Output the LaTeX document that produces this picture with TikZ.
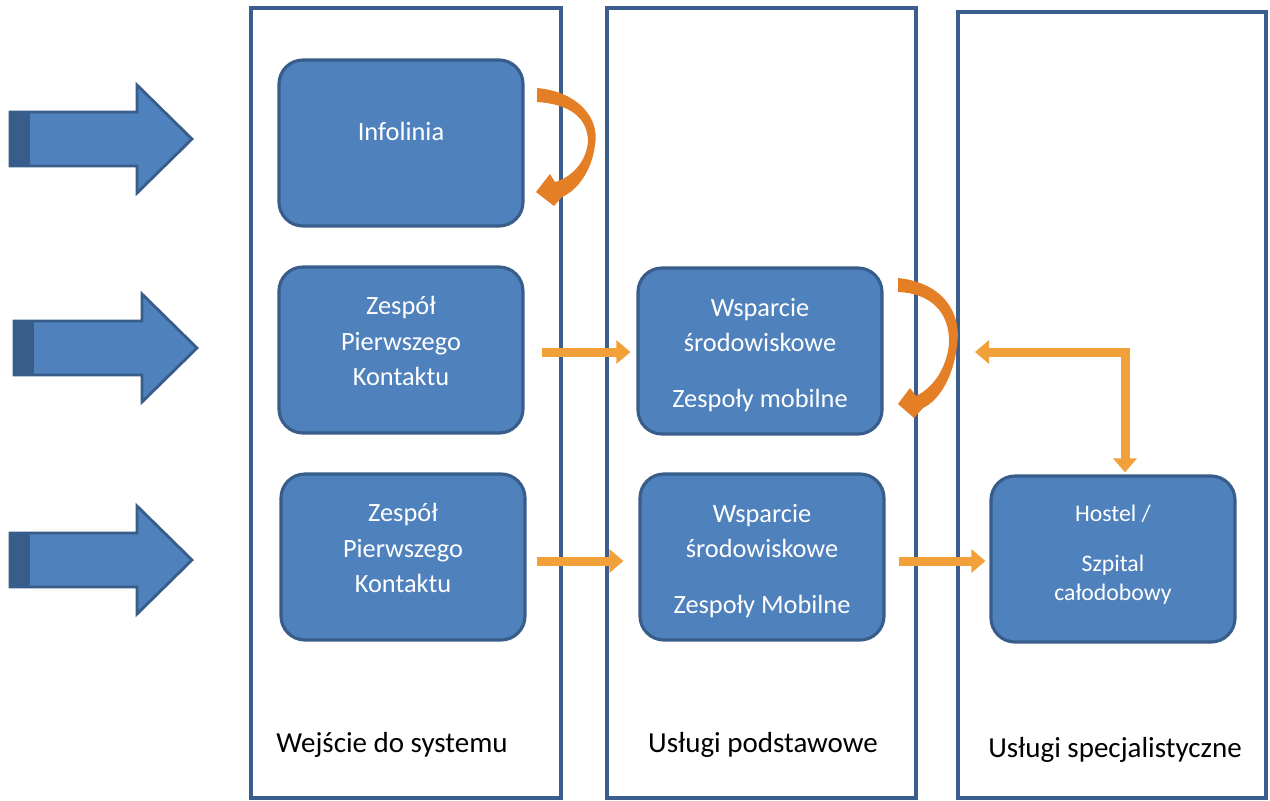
\documentclass[tikz,border=0pt]{standalone}
\usepackage{fontspec}
\setmainfont{Carlito}
\usetikzlibrary{arrows.meta}
\definecolor{boxblue}{HTML}{4F81BD}
\definecolor{boxline}{HTML}{385D8A}
\definecolor{colline}{HTML}{3B5E8C}
\definecolor{flowor}{HTML}{F2A03A}
\definecolor{curveor}{HTML}{E47F25}

\begin{document}
\begin{tikzpicture}[x=0.2mm, y=-0.2mm,
    column/.style={draw=colline, line width=2.2pt},
    unit/.style={draw=boxline, line width=1.8pt, fill=boxblue, rounded corners=0.48cm,
        minimum width=4.88cm, minimum height=3.32cm},
    inside/.style={text=white, align=center, font=\fontsize{15}{20}\selectfont},
    tag/.style={font=\fontsize{16.5}{20}\selectfont},
    bigarrow/.style={draw=boxline, line width=1.6pt, fill=boxblue},
    flow/.style={draw=flowor, line width=1.8mm, -{Triangle[width=4.6mm,length=2.8mm]}},
    turn/.style={fill=curveor}]
    \useasboundingbox (0,0) rectangle (1270,800);

    % columns
    \draw[column] (251,8) rectangle (561,798);
    \draw[column] (607,8) rectangle (916,798);
    \draw[column] (958,12) rectangle (1266,798);
    \node[tag] (entry) at (392,745) {Wejście do systemu};
    \node[tag] (basic) at (763,745) {Usługi podstawowe};
    \node[tag] (special) at (1115,750) {Usługi specjalistyczne};

    % incoming arrows
    \draw[bigarrow] (10,112) -- (137,112) -- (137,85) -- (192,139) -- (137,193) -- (137,166) -- (10,166) -- cycle;
    \fill[boxline] (10,112) rectangle (30,166);
    \draw[bigarrow] (14,321) -- (142,321) -- (142,294) -- (197,348) -- (142,402) -- (142,375) -- (14,375) -- cycle;
    \fill[boxline] (14,321) rectangle (34,375);
    \draw[bigarrow] (10,533) -- (137,533) -- (137,506) -- (192,560) -- (137,614) -- (137,587) -- (10,587) -- cycle;
    \fill[boxline] (10,533) rectangle (30,587);

    % boxes
    \node[unit] (info) at (401,143) {};
    \node[unit] (zpk1) at (401,350) {};
    \node[unit] (zpk2) at (403,557) {};
    \node[unit] (ws1) at (760,351) {};
    \node[unit] (ws2) at (762,557) {};
    \node[unit] (hostel) at (1113,559) {};

    \node[inside] (info-t) at (401,131) {Infolinia};
    \node[inside] (zpk1-t) at (401,341) {Zespół\\Pierwszego\\Kontaktu};
    \node[inside] (zpk2-t) at (403,548) {Zespół\\Pierwszego\\Kontaktu};
    \node[inside] (ws1-t) at (760,355) {Wsparcie\\środowiskowe\\[12pt]Zespoły mobilne};
    \node[inside] (ws2-t) at (762,561) {Wsparcie\\środowiskowe\\[12pt]Zespoły Mobilne};
    \node[inside, font=\fontsize{13.5}{16.5}\selectfont] (hostel-t) at (1113,555) {Hostel /\\[12pt]Szpital\\całodobowy};

    % connectors
    \draw[flow, shorten <=3.4mm, shorten >=1.2mm] (zpk1.east |- 0,352) -- (ws1.west |- 0,352);
    \draw[flow, shorten <=2mm, shorten >=3mm] (zpk2.east |- 0,561) -- (ws2.west |- 0,561);
    \draw[flow, shorten <=2.6mm, shorten >=0.8mm] (ws2.east |- 0,561) -- (hostel.west |- 0,561);

    \coordinate (elbow) at (1125,352);
    \coordinate (back) at (975,352);
    \draw[flow, {Triangle[width=4.6mm,length=2.8mm]}-{Triangle[width=4.6mm,length=2.8mm]}, shorten >=0.4mm]
        (back) -- (elbow) -- (elbow |- hostel.north);

    % loops back
    \fill[turn] (537,88) .. controls (580,92) and (600,120) .. (595,145)
        .. controls (592,170) and (578,190) .. (562,197)
        -- (554,206) -- (536,192) -- (550,174) -- (555,182)
        .. controls (572,177) and (586,162) .. (588,142)
        .. controls (588,118) and (570,104) .. (537,102) -- cycle;
    \fill[turn] (898,278) .. controls (945,283) and (962,315) .. (957,345)
        .. controls (954,375) and (940,400) .. (923,408)
        -- (914,418) -- (898,404) -- (910,388) -- (916,396)
        .. controls (933,388) and (947,368) .. (949,343)
        .. controls (950,312) and (930,293) .. (898,292) -- cycle;
\end{tikzpicture}
\end{document}
